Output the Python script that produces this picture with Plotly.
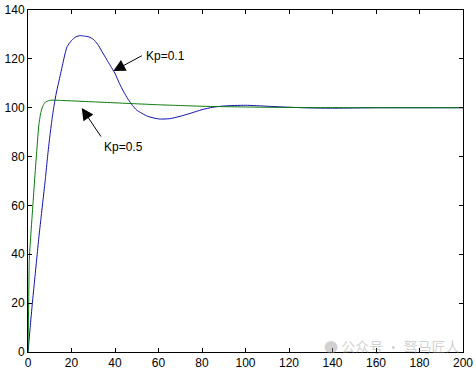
import plotly.graph_objects as go

# Step responses
t_kp01 = [0, 1, 2, 3, 4, 5, 6, 7, 8, 9, 10, 11, 12, 13, 14, 15, 16, 17, 18, 20, 22, 24, 26,
          28, 30, 32, 34, 36, 38, 40, 42, 44, 46, 48, 50, 55, 60, 65, 70, 75, 80, 85, 90,
          100, 110, 120, 130, 140, 150, 160, 180, 200]
y_kp01 = [0, 10, 20, 29, 38, 47, 55, 63, 71, 80, 88, 95, 101, 106, 110, 114, 118, 122, 125,
          127.5, 129, 129.5, 129.3, 129, 128, 126, 123, 120, 117, 114, 110, 106.5, 103.5, 101,
          99, 96.5, 95.4, 95.5, 96.5, 97.8, 99.2, 100.2, 100.7, 101, 100.6, 100.2, 99.9, 99.8,
          99.9, 100, 100, 100]

t_kp05 = [0, 0.3, 0.6, 1, 2, 3, 4, 5, 6, 7, 8, 10, 12, 15, 20, 30, 40, 50, 60, 70, 80, 100,
          120, 150, 200]
y_kp05 = [0, 20, 38, 44, 57, 70, 82, 93, 98.5, 101, 102.3, 103, 103.1, 103, 102.8, 102.4, 102,
          101.6, 101.2, 100.9, 100.6, 100.3, 100.1, 100, 100]

labels = ["Kp=0.1", "Kp=0.5"]
x_ticks = [0, 20, 40, 60, 80, 100, 120, 140, 160, 180, 200]
y_ticks = [0, 20, 40, 60, 80, 100, 120, 140]

# Annotation anchors (tip, tail, text) in data units
arrow_tips = [(39.2, 115.0), (24.7, 99.9)]
arrow_tails = [(53.0, 121.6), (34.0, 87.6)]
text_pos = [(53.5, 121.0), (34.0, 84.0)]

fig = go.Figure()
fig.add_trace(go.Scatter(x=t_kp01, y=y_kp01, mode="lines", name=labels[0],
                         line=dict(color="#1010b0", width=1, shape="spline", smoothing=0.6)))
fig.add_trace(go.Scatter(x=t_kp05, y=y_kp05, mode="lines", name=labels[1],
                         line=dict(color="#0a7a0a", width=1, shape="spline", smoothing=0.6)))

for (tx, ty), (ax, ay) in zip(arrow_tips, arrow_tails):
    fig.add_annotation(x=tx, y=ty, ax=ax, ay=ay, xref="x", yref="y", axref="x", ayref="y",
                       text="", showarrow=True, arrowhead=2, arrowsize=2.4, arrowwidth=1,
                       arrowcolor="black")
for (px, py), lab in zip(text_pos, labels):
    fig.add_annotation(x=px, y=py, xref="x", yref="y", text=lab, showarrow=False,
                       xanchor="left", yanchor="middle",
                       font=dict(family="Liberation Sans, Arial", size=12, color="black"))

fig.add_annotation(x=1, y=0, xref="paper", yref="paper", xanchor="right", yanchor="bottom",
                   text="● 公众号 · 驽马匠人", showarrow=False, yshift=-6, xshift=-2,
                   font=dict(family="Noto Sans CJK SC", size=14, color="rgba(150,150,150,0.45)"))

axis_common = dict(showline=True, linecolor="black", linewidth=1, mirror="ticks",
                   ticks="inside", ticklen=4, tickcolor="black", showgrid=False,
                   zeroline=False, automargin=False,
                   tickfont=dict(family="Liberation Sans, Arial", size=12, color="black"))
fig.update_xaxes(range=[0, 200], tickvals=x_ticks, **axis_common)
fig.update_yaxes(range=[0, 140], tickvals=y_ticks, **axis_common)

fig.update_layout(width=476, height=373, showlegend=False,
                  margin=dict(l=28, r=13, t=10, b=21),
                  paper_bgcolor="white", plot_bgcolor="white")

fig.write_html("out.html", config={"displayModeBar": False},
               post_script="document.body.style.margin='0';document.body.style.overflow='hidden';")
